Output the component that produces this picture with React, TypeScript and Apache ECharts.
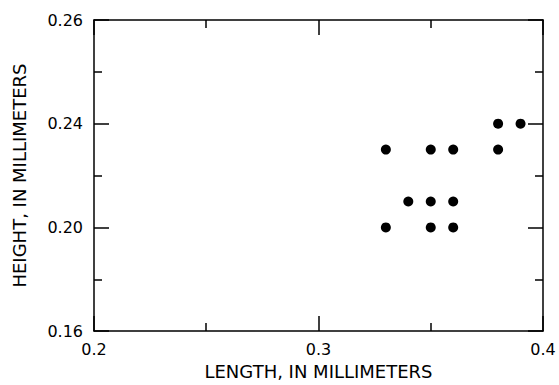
import React, { useEffect, useRef } from "react";
import * as echarts from "echarts";

const lengthMm = [0.38, 0.39, 0.33, 0.35, 0.36, 0.38, 0.34, 0.35, 0.36, 0.33, 0.35, 0.36];
const heightMm = [0.24, 0.24, 0.23, 0.23, 0.23, 0.23, 0.21, 0.21, 0.21, 0.2, 0.2, 0.2];
const xTickLabels = ["0.2", "0.3", "0.4"];
const yTickLabels = ["0.16", "0.20", "0.24", "0.26"];

const FONT = "DejaVu Sans";

export default function App() {
  const ref = useRef<HTMLDivElement>(null);
  useEffect(() => {
    if (!ref.current) return;
    const chart = echarts.init(ref.current, null, { renderer: "svg" });
    const lineStyle = { color: "#000", width: 1.5 };
    const baseX = {
      type: "value" as const,
      min: 0.2,
      max: 0.4,
      interval: 0.1,
      axisLine: { show: true, lineStyle },
      axisTick: { show: true, inside: true, length: 15, lineStyle },
      minorTick: { show: true, splitNumber: 2, length: 8, lineStyle },
      splitLine: { show: false },
      minorSplitLine: { show: false },
    };
    const baseY = {
      type: "value" as const,
      min: 0.16,
      max: 0.28,
      interval: 0.04,
      axisLine: { show: true, lineStyle },
      axisTick: { show: true, inside: true, length: 15, lineStyle },
      minorTick: { show: true, splitNumber: 2, length: 8, lineStyle },
      splitLine: { show: false },
      minorSplitLine: { show: false },
    };
    chart.setOption({
      animation: false,
      backgroundColor: "#fff",
      grid: { left: 94, top: 20, width: 449, height: 316 },
      xAxis: [
        {
          ...baseX,
          position: "bottom",
          name: "LENGTH, IN MILLIMETERS",
          nameLocation: "middle",
          nameGap: 29,
          nameTextStyle: { fontFamily: FONT, fontSize: 18, color: "#000" },
          axisLabel: {
            margin: 10,
            fontFamily: FONT,
            fontSize: 16,
            color: "#000",
            formatter: (v: number) => xTickLabels[Math.round((v - 0.2) / 0.1)] ?? "",
          },
        },
        { ...baseX, position: "top", axisLabel: { show: false } },
      ],
      yAxis: [
        {
          ...baseY,
          position: "left",
          name: "HEIGHT, IN MILLIMETERS",
          nameLocation: "middle",
          nameGap: 66,
          nameTextStyle: { fontFamily: FONT, fontSize: 18, color: "#000" },
          axisLabel: {
            margin: 11,
            fontFamily: FONT,
            fontSize: 16,
            color: "#000",
            formatter: (v: number) => yTickLabels[Math.round((v - 0.16) / 0.04)] ?? "",
          },
        },
        { ...baseY, position: "right", axisLabel: { show: false } },
      ],
      series: [
        {
          type: "scatter",
          xAxisIndex: 0,
          yAxisIndex: 0,
          symbol: "circle",
          symbolSize: 10,
          itemStyle: { color: "#000", opacity: 1 },
          data: lengthMm.map((x, i) => [x, heightMm[i]]),
        },
      ],
    });
    return () => chart.dispose();
  }, []);
  return (
    <div
      ref={ref}
      style={{ position: "fixed", left: 0, top: 0, width: 559, height: 385, background: "#fff" }}
    />
  );
}
